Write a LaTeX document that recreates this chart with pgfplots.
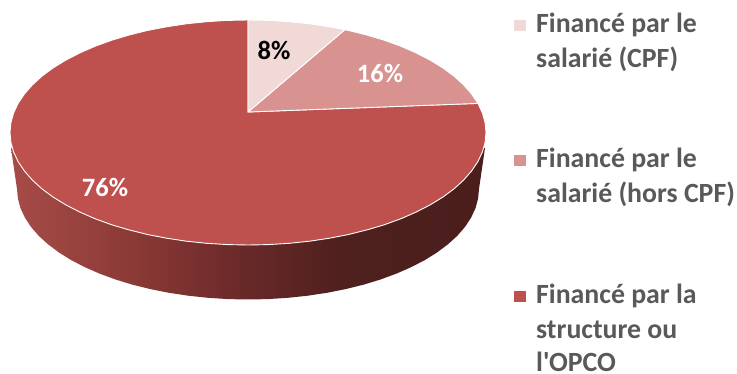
\documentclass[border=0pt]{standalone}
\usepackage{pgfplots}
\pgfplotsset{compat=1.18}
\usepackage{fontspec}
\setmainfont{Carlito}[Ligatures=TeXOff]
\definecolor{big}{RGB}{190,80,77}
\definecolor{mid}{RGB}{216,146,144}
\definecolor{light}{RGB}{240,217,215}
\definecolor{legtext}{RGB}{89,89,89}
\definecolor{sa}{RGB}{166,76,72}
\definecolor{sb}{RGB}{140,58,54}
\definecolor{sc}{RGB}{104,40,40}
\definecolor{sd}{RGB}{78,32,30}
\definecolor{se}{RGB}{74,30,28}
\pgfdeclarehorizontalshading{sidegrad}{100bp}{
 color(0bp)=(sa);
 color(25bp)=(sa);
 color(37.5bp)=(sb);
 color(50bp)=(sc);
 color(60bp)=(sd);
 color(75bp)=(se);
 color(100bp)=(se)}
\begin{document}
\begin{tikzpicture}
\begin{axis}[
  at={(0,0)},anchor=south west,
  scale only axis,width=737pt,height=374pt,
  xmin=0,xmax=737,ymin=0,ymax=374,y dir=reverse,
  hide axis,clip=false]
% side of the pie
\addplot[draw=none,shading=sidegrad,shading angle=0] coordinates {
(11,148)(17,189)(17.9,198.6)(20.5,208.2)(24.9,217.6)(30.9,226.8)(38.6,235.7)(48,244.3)(58.8,252.4)(71,260)(84.7,267.1)(99.5,273.6)(115.5,279.5)(132.5,284.7)(150.4,289.1)(169,292.8)(188.2,295.7)(207.9,297.8)(227.9,299.1)(248,299.5)
(268.1,299.1)(288.1,297.8)(307.8,295.7)(327,292.8)(345.6,289.1)(363.5,284.7)(380.5,279.5)(396.5,273.6)(411.3,267.1)(425,260)(437.2,252.4)(448,244.3)(457.4,235.7)(465.1,226.8)(471.1,217.6)(475.5,208.2)(478.1,198.6)(479,189)(485,148)
} -- cycle;
% slice 3 : 76
\addplot[draw=white,line width=0.9pt,fill=big,line join=round] coordinates {
(248,112)(477.9,103.4)(482.4,113)(485.1,122.7)(486,132.5)
(485.1,142.3)(482.4,152)(477.9,161.6)(471.6,171)(463.7,180)(454.1,188.8)(443,197)(430.3,204.8)(416.3,212)(401,218.7)(384.5,224.7)(367,229.9)(348.6,234.5)(329.4,238.2)(309.6,241.2)(289.3,243.3)(268.7,244.6)(248,245)
(227.3,244.6)(206.7,243.3)(186.4,241.2)(166.6,238.2)(147.4,234.5)(129,229.9)(111.5,224.7)(95,218.7)(79.7,212)(65.7,204.8)(53,197)(41.9,188.8)(32.3,180)(24.4,171)(18.1,161.6)(13.6,152)(10.9,142.3)(10,132.5)
(10.9,122.7)(13.6,113)(18.1,103.4)(24.4,94)(32.3,85)(41.9,76.2)(53,68)(65.7,60.2)(79.7,53)(95,46.3)(111.5,40.3)(129,35.1)(147.4,30.5)(166.6,26.8)(186.4,23.8)(206.7,21.7)(227.3,20.4)(248,20)
} -- cycle;
% slice 2 : 16
\addplot[draw=white,line width=0.9pt,fill=mid,line join=round] coordinates {
(248,112)(344.8,29.7)(348.6,30.5)(367,35.1)(384.5,40.3)(401,46.3)(416.3,53)(430.3,60.2)(443,68)(454.1,76.2)(463.7,85)(471.6,94)(477.9,103.4)
} -- cycle;
% slice 1 : 8
\addplot[draw=white,line width=0.9pt,fill=light,line join=round] coordinates {
(248,112)(248,20)(268.7,20.4)(289.3,21.7)(309.6,23.8)(329.4,26.8)(344.8,29.7)
} -- cycle;
% legend keys
\addplot[only marks,mark=square*,mark size=5.2pt,mark options={draw=light,fill=light,line width=0pt}] coordinates {(520,25.3)};
\addplot[only marks,mark=square*,mark size=5.2pt,mark options={draw=mid,fill=mid,line width=0pt}] coordinates {(520,160.7)};
\addplot[only marks,mark=square*,mark size=5.2pt,mark options={draw=big,fill=big,line width=0pt}] coordinates {(520,296.5)};
% data labels
\node[anchor=center,font=\fontsize{26.5}{30}\selectfont\bfseries,text=black] at (axis cs:274,50) {8\%};
\node[anchor=center,font=\fontsize{26.5}{30}\selectfont\bfseries,text=white] at (axis cs:380,73) {16\%};
\node[anchor=center,font=\fontsize{26.5}{30}\selectfont\bfseries,text=white] at (axis cs:105,187) {76\%};
% legend text
\foreach \yy/\tt in {33/Financé par le,68/salarié (CPF),168/Financé par le,203/salarié (hors CPF),304/Financé par la,338/structure ou,371.5/l'OPCO}{
  \edef\temp{\noexpand\node[anchor=base west,inner sep=0pt,font=\noexpand\fontsize{27.8}{30}\noexpand\selectfont\noexpand\bfseries,text=legtext] at (axis cs:536,\yy) {\tt};}
  \temp
}
\end{axis}
\pgfresetboundingbox
\path[use as bounding box] (0,0) rectangle (737pt,374pt);
\end{tikzpicture}
\end{document}
